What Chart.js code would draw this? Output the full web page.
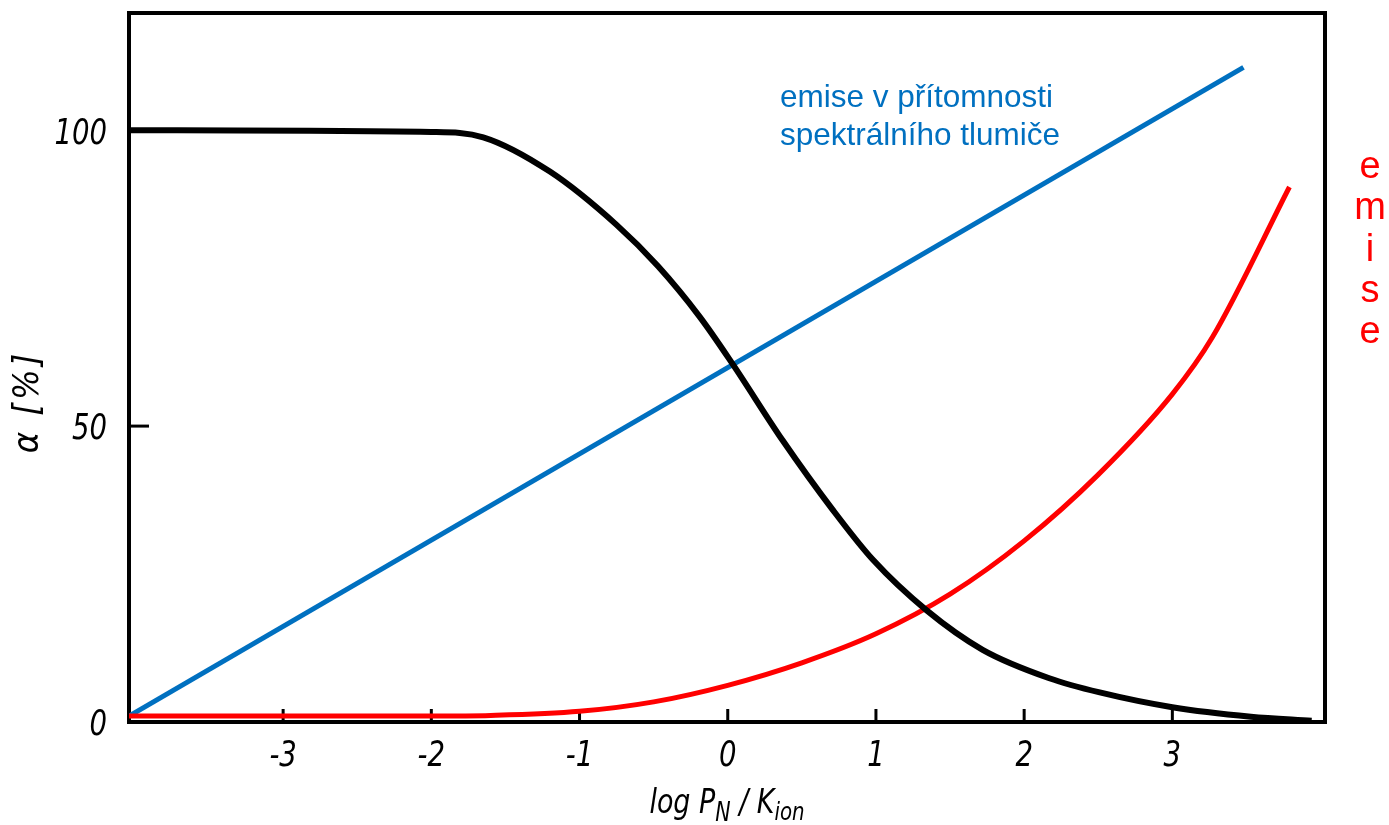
<!DOCTYPE html>
<html>
<head>
<meta charset="utf-8">
<script src="https://cdn.jsdelivr.net/npm/chart.js@4/dist/chart.umd.min.js"></script>
<style>
  body { margin: 0; background: #fff; }
  #wrap { width: 1389px; height: 825px; position: relative; }
</style>
</head>
<body>
<div id="wrap"><canvas id="chart"></canvas></div>
<script>
// values (x = log P_N / K_ion, y = alpha in %)
const xTicks = [-3, -2, -1, 0, 1, 2, 3];
const yTicks = [0, 50, 100];

const xBlack = [-4.04, -2.0, -1.65, -1.2, -0.75, -0.47, -0.19, 0.03, 0.37, 0.71, 0.98, 1.34, 1.72, 2.17, 2.51, 3.0, 3.53, 3.94];
const yBlack = [100, 99.7, 98.8, 93.0, 84.0, 77.0, 68.5, 60.6, 47.6, 35.8, 27.4, 18.9, 12.2, 7.4, 5.0, 2.5, 0.9, 0.2];

const xRed = [-4.04, -2.0, -1.6, -1.0, -0.5, 0.0, 0.5, 1.0, 1.5, 2.0, 2.5, 3.0, 3.27, 3.79];
const yRed = [1.0, 1.0, 1.1, 1.8, 3.4, 6.2, 10.0, 14.9, 21.6, 30.6, 41.8, 55.4, 65.0, 90.4];

const xBlue = [-4.04, 3.48];
const yBlue = [1.0, 110.6];

const handFont = "'DejaVu Sans Condensed', 'DejaVu Sans', sans-serif";
const textFont = "'Liberation Sans', Arial, sans-serif";

const toPoints = (xs, ys) => xs.map((v, i) => ({ x: v, y: ys[i] }));

// narrow hand-lettered text
function handText(ctx, str, x, y, size, align, squeeze) {
    ctx.save();
    ctx.translate(x, y);
    ctx.scale(squeeze, 1);
    ctx.font = "italic " + size + "px " + handFont;
    ctx.textAlign = align;
    ctx.fillText(str, 0, 0);
    ctx.restore();
}

const annotate = {
    id: "annotate",
    beforeDatasetsDraw(chart) {
        const { ctx, chartArea: a, scales: { x, y } } = chart;
        ctx.save();
        ctx.strokeStyle = "#000";
        ctx.lineWidth = 4;
        ctx.strokeRect(a.left, a.top, a.right - a.left, a.bottom - a.top);
        ctx.lineWidth = 3;
        xTicks.forEach(v => {
            const px = x.getPixelForValue(v);
            ctx.beginPath();
            ctx.moveTo(px, a.bottom);
            ctx.lineTo(px, a.bottom - 13);
            ctx.stroke();
        });
        yTicks.slice(1).forEach(v => {
            const py = y.getPixelForValue(v);
            ctx.beginPath();
            ctx.moveTo(a.left, py);
            ctx.lineTo(a.left + 20, py);
            ctx.stroke();
        });

        // tick labels
        ctx.fillStyle = "#000";
        ctx.textBaseline = "middle";
        xTicks.forEach(v => handText(ctx, String(v), x.getPixelForValue(v), a.bottom + 35, 36, "center", 0.85));
        yTicks.forEach(v => handText(ctx, String(v), a.left - 22, y.getPixelForValue(v) + 4, 36, "right", 0.85));
        ctx.restore();
    },
    afterDraw(chart) {
        const { ctx } = chart;
        ctx.save();

        // blue label
        ctx.fillStyle = "#0070C0";
        ctx.font = "31.5px " + textFont;
        ctx.textAlign = "left";
        ctx.textBaseline = "alphabetic";
        ctx.fillText("emise v přítomnosti", 780, 107);
        ctx.fillText("spektrálního tlumiče", 780, 145);

        // red vertical label
        ctx.fillStyle = "#FF0000";
        ctx.font = "38px " + textFont;
        ctx.textAlign = "center";
        "emise".split("").forEach((ch, i) => ctx.fillText(ch, 1370, 178 + i * 41.3));

        // y axis title
        ctx.fillStyle = "#000";
        ctx.save();
        ctx.translate(29, 402);
        ctx.rotate(-Math.PI / 2);
        ctx.font = "italic 36px " + handFont;
        ctx.letterSpacing = "3px";
        ctx.textAlign = "center";
        ctx.textBaseline = "middle";
        ctx.fillText("α [%]", 0, 0);
        ctx.restore();

        // x axis title with subscripts
        const parts = [
            ["log P", 34, 0],
            ["N", 26, 8],
            [" / K", 34, 0],
            ["ion", 25, 7],
        ];
        const squeeze = 0.88;
        ctx.textAlign = "left";
        ctx.textBaseline = "alphabetic";
        let total = 0;
        parts.forEach(p => {
            ctx.font = "italic " + p[1] + "px " + handFont;
            total += ctx.measureText(p[0]).width * squeeze;
        });
        let cx = 727 - total / 2;
        parts.forEach(p => {
            handText(ctx, p[0], cx, 813 + p[2], p[1], "left", squeeze);
            ctx.font = "italic " + p[1] + "px " + handFont;
            cx += ctx.measureText(p[0]).width * squeeze;
        });
        ctx.restore();
    },
};

const chart = new Chart(document.getElementById("chart"), {
    type: "scatter",
    data: {
        datasets: [
            {
                label: "alpha",
                data: toPoints(xBlack, yBlack),
                borderColor: "#000",
                borderWidth: 6,
                showLine: true,
                cubicInterpolationMode: "monotone",
                pointRadius: 0,
            },
            {
                label: "emise",
                data: toPoints(xRed, yRed),
                borderColor: "#FF0000",
                borderWidth: 5,
                showLine: true,
                cubicInterpolationMode: "monotone",
                pointRadius: 0,
            },
            {
                label: "emise v přítomnosti spektrálního tlumiče",
                data: toPoints(xBlue, yBlue),
                borderColor: "#0070C0",
                borderWidth: 5,
                showLine: true,
                pointRadius: 0,
            },
        ],
    },
    options: {
        responsive: true,
        maintainAspectRatio: false,
        animation: false,
        layout: {
            padding: { top: 13, right: 64, bottom: 0, left: 0 },
        },
        plugins: {
            legend: { display: false },
            tooltip: { enabled: false },
        },
        scales: {
            x: {
                type: "linear",
                min: -4.04,
                max: 4.03,
                grid: { display: false, drawTicks: false },
                border: { display: false },
                afterBuildTicks: scale => { scale.ticks = xTicks.map(v => ({ value: v })); },
                afterFit: scale => { scale.height = 103; },
                ticks: { display: false },
            },
            y: {
                min: 0,
                max: 119.8,
                grid: { display: false, drawTicks: false },
                border: { display: false },
                afterBuildTicks: scale => { scale.ticks = yTicks.map(v => ({ value: v })); },
                afterFit: scale => { scale.width = 129; },
                ticks: { display: false },
            },
        },
    },
    plugins: [annotate],
});
</script>
</body>
</html>
